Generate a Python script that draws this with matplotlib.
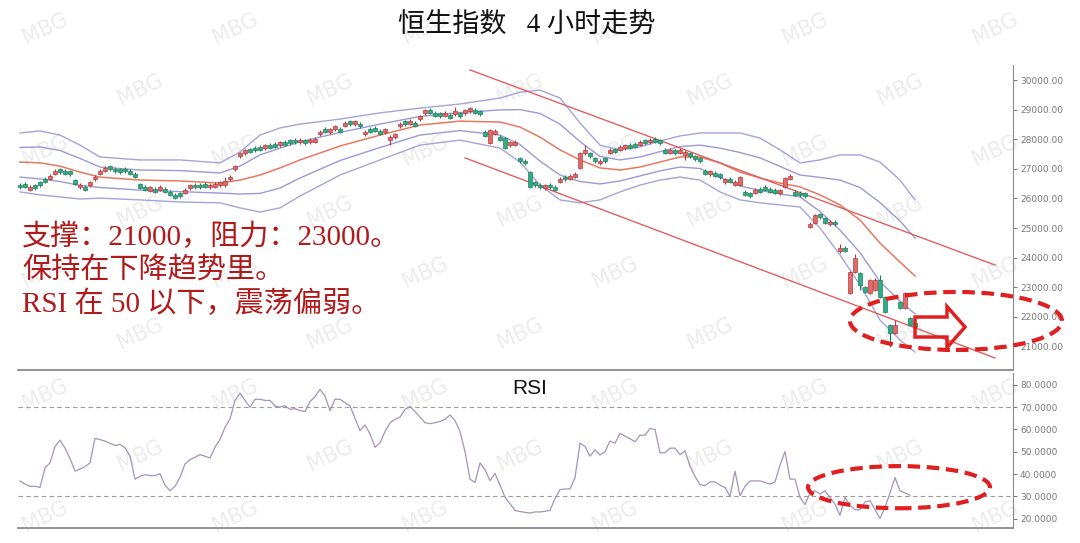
import numpy as np
import matplotlib.pyplot as plt
from matplotlib.patches import Ellipse, FancyArrow

# 恒生指数 4 小时 K 线
opens = [26470, 26500, 26300, 26440, 26540, 26670, 26670, 26840, 26980, 26940,
         26910, 26620, 26370, 26400, 26440, 26640, 26840, 26940, 27080, 27010,
         26980, 27010, 26940, 26840, 26490, 26400, 26250, 26330, 26300, 26330,
         26230, 26130, 26170, 26200, 26340, 26470, 26470, 26500, 26370, 26400,
         26440, 26450, 26640, 26980, 27420, 27520, 27680, 27720, 27750, 27690,
         27820, 27850, 27790, 27920, 27960, 27990, 27890, 27960, 27890, 27920,
         28160, 28360, 28230, 28330, 28360, 28460, 28600, 28500, 28530, 28160,
         28360, 28390, 28290, 28230, 27990, 28060, 28430, 28600, 28530, 28560,
         28670, 28870, 29000, 28900, 28870, 28800, 28830, 28840, 28870, 28870,
         28940, 29000, 28940, 28260, 27870, 28190, 28090, 28040, 27790, 27820,
         27350, 27280, 26890, 26540, 26470, 26340, 26470, 26400, 26570, 26740,
         26670, 26740, 27030, 27520, 27520, 27350, 27180, 27350, 27550, 27680,
         27650, 27690, 27820, 27850, 27820, 27960, 27890, 28020, 27960, 27650,
         27550, 27620, 27550, 27480, 27520, 27420, 27350, 26940, 26810, 26870,
         26810, 26540, 26670, 26470, 26450, 26230, 26170, 26200, 26330, 26400,
         26330, 26300, 26170, 26390, 26670, 26230, 26200, 26170, 25050, 25170,
         25460, 25340, 25120, 25220, 24210, 24340, 22800, 23510, 23480, 23010,
         22800, 22910, 23240, 22670, 21720, 21450, 22500, 22300, 21960, 21790]
closes = [26370, 26400, 26400, 26340, 26440, 26570, 26770, 26940, 26880, 26840,
          26810, 26480, 26470, 26300, 26540, 26740, 26940, 27040, 26980, 26910,
          26880, 26910, 26840, 26740, 26350, 26300, 26390, 26230, 26400, 26230,
          26130, 26030, 26070, 26300, 26440, 26370, 26370, 26400, 26470, 26500,
          26540, 26590, 26740, 27080, 27520, 27620, 27580, 27620, 27650, 27790,
          27720, 27750, 27890, 27820, 27860, 27890, 27990, 27860, 27990, 28020,
          28260, 28260, 28330, 28430, 28260, 28560, 28500, 28600, 28430, 28260,
          28260, 28290, 28190, 28330, 28090, 28160, 28530, 28500, 28630, 28460,
          28770, 28970, 28900, 28800, 28770, 28900, 28730, 28940, 28770, 28970,
          29040, 28900, 28840, 28100, 28310, 28290, 27990, 27700, 27890, 27920,
          27250, 27180, 26390, 26440, 26370, 26440, 26370, 26300, 26670, 26640,
          26770, 26840, 27530, 27620, 27420, 27250, 27280, 27250, 27650, 27580,
          27750, 27790, 27720, 27750, 27920, 27860, 27990, 27920, 27860, 27550,
          27650, 27520, 27650, 27580, 27420, 27320, 27250, 26840, 26910, 26770,
          26710, 26640, 26570, 26570, 26720, 26130, 26070, 26300, 26230, 26300,
          26230, 26200, 26270, 26690, 26770, 26130, 26100, 26070, 25150, 25440,
          25360, 25170, 25220, 25120, 24310, 24240, 23510, 23990, 23070, 22840,
          23240, 23240, 22670, 22160, 21450, 21720, 22300, 22800, 21720, 21660]
highs = [26510, 26540, 26440, 26480, 26580, 26710, 26810, 26980, 27020, 26980,
         26950, 26660, 26510, 26440, 26580, 26780, 26980, 27080, 27120, 27050,
         27020, 27050, 26980, 26880, 26530, 26440, 26430, 26370, 26440, 26370,
         26270, 26170, 26210, 26340, 26480, 26510, 26510, 26540, 26510, 26540,
         26580, 26720, 26780, 27120, 27560, 27660, 27720, 27760, 27790, 27830,
         27860, 27890, 27930, 27960, 28000, 28030, 28030, 28000, 28030, 28060,
         28300, 28400, 28370, 28470, 28400, 28600, 28640, 28640, 28570, 28300,
         28400, 28430, 28330, 28370, 28130, 28200, 28570, 28640, 28670, 28600,
         28810, 29010, 29040, 28940, 28910, 28940, 28870, 29100, 28910, 29010,
         29080, 29040, 28980, 28300, 28360, 28330, 28130, 28080, 27930, 27960,
         27390, 27320, 26930, 26580, 26510, 26480, 26510, 26440, 26710, 26780,
         26810, 26880, 27570, 27800, 27560, 27390, 27320, 27390, 27690, 27720,
         27790, 27830, 27860, 27890, 27960, 28000, 28030, 28060, 28000, 27690,
         27690, 27660, 27690, 27620, 27560, 27460, 27390, 26980, 26950, 26910,
         26850, 26680, 26710, 26610, 26760, 26270, 26210, 26340, 26370, 26440,
         26370, 26340, 26310, 26730, 26830, 26270, 26240, 26210, 25190, 25480,
         25500, 25380, 25260, 25260, 24450, 24380, 23550, 24120, 23520, 23050,
         23280, 23300, 23400, 22710, 21760, 21900, 22540, 22840, 22000, 21830]
lows = [26330, 26360, 26260, 26300, 26400, 26530, 26630, 26800, 26840, 26800,
        26770, 26440, 26330, 26260, 26400, 26600, 26800, 26900, 26940, 26870,
        26840, 26870, 26800, 26700, 26310, 26260, 26210, 26190, 26260, 26190,
        26090, 25990, 26030, 26160, 26300, 26330, 26330, 26360, 26330, 26360,
        26400, 26390, 26600, 26940, 27380, 27480, 27540, 27580, 27610, 27650,
        27680, 27710, 27750, 27780, 27820, 27850, 27850, 27820, 27850, 27880,
        28120, 28220, 28190, 28290, 28220, 28420, 28460, 28460, 28390, 28120,
        28220, 28250, 28150, 28190, 27800, 28020, 28390, 28460, 28490, 28420,
        28630, 28830, 28860, 28760, 28730, 28760, 28690, 28800, 28730, 28830,
        28900, 28860, 28800, 28060, 27830, 28150, 27950, 27660, 27750, 27780,
        27210, 27140, 26350, 26400, 26330, 26300, 26330, 26260, 26530, 26600,
        26630, 26700, 26990, 27480, 27380, 27210, 27140, 27210, 27510, 27540,
        27610, 27650, 27680, 27710, 27780, 27820, 27850, 27880, 27820, 27510,
        27510, 27480, 27510, 27300, 27380, 27280, 27210, 26800, 26770, 26730,
        26670, 26500, 26530, 26430, 26410, 26090, 26030, 26160, 26190, 26260,
        26190, 26160, 26130, 26350, 26630, 26090, 26060, 26030, 25010, 25130,
        25320, 25130, 25080, 25080, 24170, 24200, 22760, 23470, 22900, 22800,
        22760, 22870, 22630, 22120, 20980, 21410, 22260, 22260, 21680, 21620]

# 布林带 (双标准差/单标准差), 在这些 K 线序号处读取
band_idx = [0, 4, 8, 12, 16, 24, 32, 40, 44, 48, 52, 56, 64, 72, 80, 88, 96, 100, 104,
            108, 112, 116, 120, 124, 128, 132, 136, 140, 144, 148, 152, 156, 160, 164,
            168, 172, 176, 179]
band_up2 = [28210, 28280, 28140, 27800, 27400, 27300, 27300, 27200, 27570, 28140, 28380,
            28510, 28680, 28890, 29050, 29190, 29390, 29590, 29660, 29390, 28550, 27800,
            27640, 27740, 27940, 28110, 28210, 28210, 28210, 28040, 27640, 27200, 27300,
            27470, 27470, 27230, 26620, 25950]
band_up1 = [27720, 27740, 27620, 27350, 27060, 26960, 26940, 26860, 27090, 27470, 27700,
            27910, 28230, 28510, 28770, 28900, 28990, 29000, 28870, 28510, 27920, 27420,
            27300, 27400, 27580, 27750, 27800, 27700, 27550, 27370, 27080, 26790, 26710,
            26620, 26370, 25860, 25240, 24660]
band_mid = [27230, 27200, 27090, 26890, 26720, 26620, 26590, 26520, 26620, 26790, 27030,
            27300, 27770, 28140, 28480, 28610, 28580, 28410, 28070, 27640, 27300, 27030,
            26960, 27060, 27230, 27400, 27400, 27200, 26890, 26690, 26520, 26390, 26120,
            25780, 25270, 24490, 23850, 23380]
band_lo1 = [26720, 26660, 26570, 26440, 26370, 26280, 26230, 26180, 26150, 26170, 26350,
            26690, 27280, 27720, 28140, 28290, 28140, 27820, 27260, 26790, 26570, 26490,
            26590, 26760, 26930, 27060, 27010, 26710, 26420, 26270, 26150, 26050, 25560,
            24930, 24170, 23190, 22530, 22100]
band_lo2 = [26220, 26120, 26050, 25980, 26010, 25950, 25880, 25850, 25680, 25540, 25680,
            26080, 26790, 27300, 27800, 27970, 27700, 27230, 26450, 25950, 25850, 25950,
            26220, 26450, 26620, 26720, 26620, 26220, 25950, 25850, 25780, 25710, 25000,
            24090, 23080, 21890, 21220, 20810]

# 下降通道
chan_up_idx = [90, 195]
chan_up_val = [30340, 23750]
chan_lo_idx = [89, 195]
chan_lo_val = [27370, 20610]

rsi = [36.9, 35.5, 34.5, 34.5, 34, 42.8, 45, 52.3, 55.2, 51.6,
       47, 41.3, 42.2, 43.3, 45, 56, 55.4, 54.8, 53.8, 52.8,
       53.3, 51.8, 48, 37.7, 39, 39.7, 39.3, 39.3, 40.1, 35,
       32.5, 34.5, 38.5, 44.5, 46.5, 47.5, 48.7, 48, 47.2, 52,
       55.5, 61, 64.7, 73, 76.2, 73, 69.9, 73.5, 73.5, 73,
       73, 70.5, 70, 70.6, 69, 69.3, 68.5, 68, 72.5, 74.7,
       77.9, 75, 68.4, 73.5, 73.5, 72, 70.6, 65, 59.5, 62,
       58, 52, 54, 59, 63, 64.5, 65.5, 69, 70.3, 68,
       65.5, 63, 62.6, 63, 63.6, 64.5, 66.5, 64, 59, 50,
       37.7, 36.2, 45, 42, 37, 40.3, 35, 29.6, 26.7, 23.7,
       23.2, 22.8, 22.5, 23, 23, 23.3, 23.7, 29, 33, 33.3,
       33.3, 38.4, 53.8, 52.3, 48, 50.8, 48.5, 50, 54.8, 53.8,
       58.2, 57, 55.8, 54.5, 57.4, 57.4, 60.4, 60, 49.5, 49.5,
       51.6, 51.6, 48.7, 50.4, 43.5, 39, 35.2, 34.8, 36.5, 36.5,
       35, 34, 29.9, 41.3, 30.3, 34.5, 36.9, 36.9, 36.9, 36.2,
       35.5, 36.5, 44, 50.1, 37.7, 37.7, 29.5, 26.3, 31.5, 32.5,
       31, 32.5, 29.5, 26.5, 21.5, 29.6, 26, 24, 24, 27.5,
       28, 24, 20.1, 25, 31.5, 38.4, 32.5, 31.5, 30.5]

price_ticks = [21000, 22000, 23000, 24000, 25000, 26000, 27000, 28000, 29000, 30000]
rsi_ticks = [20, 30, 40, 50, 60, 70, 80]

cn_font = ['Liberation Serif', 'Noto Sans CJK SC', 'DejaVu Sans']
RED = '#e02020'

o = np.array(opens)
c = np.array(closes)
idx = np.arange(len(o))
up = c >= o

fig = plt.figure(figsize=(10.8, 5.43), dpi=100)

# 水印 (画在最底层)
for r in range(9):
    for q in range(6):
        px = q * 190 + (r % 2) * 95 + 45
        if px > 1035:
            continue
        fig.text(px / 1080, 1 - (r * 61 + 28) / 543, 'MBG', fontsize=15,
                 color='#d9d9d9', alpha=0.5, rotation=25, ha='center',
                 va='center', zorder=-5)

ax = fig.add_axes([18 / 1080, 1 - 370 / 543, 995 / 1080, 305 / 543])
ax2 = fig.add_axes([18 / 1080, 15 / 543, 995 / 1080, 155 / 543])

# 布林带
ax.plot(band_idx, band_up2, color='#a4a4dc', lw=1.0)
ax.plot(band_idx, band_up1, color='#9a9ad6', lw=1.0)
ax.plot(band_idx, band_mid, color='#e8785e', lw=1.1)
ax.plot(band_idx, band_lo1, color='#9a9ad6', lw=1.0)
ax.plot(band_idx, band_lo2, color='#a4a4dc', lw=1.0)

# 通道线
ax.plot(chan_up_idx, chan_up_val, color='#e06060', lw=1.0)
ax.plot(chan_lo_idx, chan_lo_val, color='#e06060', lw=1.0)

# K 线
face = np.where(up, '#e46a6a', '#2fae85')
edge = np.where(up, '#b23a3a', '#1f7f5f')
ax.vlines(idx, lows, highs, colors=edge, lw=0.8, zorder=3)
ax.bar(idx, np.abs(c - o), bottom=np.minimum(o, c), width=0.7,
       color=face, edgecolor=edge, linewidth=0.5, zorder=4)

ax.set_xlim(-0.4, 198.6)
ax.set_ylim(20204, 30507)
ax.set_yticks(price_ticks)
ax.set_yticklabels([f'{v:.2f}' for v in price_ticks])

# RSI
ax2.plot(np.arange(len(rsi)), rsi, color='#a593b8', lw=0.9)
ax2.axhline(70, color='#9a9a9a', lw=0.8, ls=(0, (4, 3)))
ax2.axhline(30, color='#9a9a9a', lw=0.8, ls=(0, (4, 3)))
ax2.set_xlim(-0.4, 198.6)
ax2.set_ylim(15.8, 85.3)
ax2.set_yticks(rsi_ticks)
ax2.set_yticklabels([f'{v:.4f}' for v in rsi_ticks])

for a in (ax, ax2):
    a.set_facecolor('none')
    a.yaxis.tick_right()
    a.set_xticks([])
    a.tick_params(axis='y', labelsize=6.5, colors='#777777', length=3, width=0.7, pad=2)
    for s in ('top', 'left'):
        a.spines[s].set_visible(False)
    a.spines['right'].set_color('#8a8a8a')
    a.spines['bottom'].set_color('#8a8a8a')
    a.spines['bottom'].set_linewidth(1.3)

# 标注
ax.add_patch(Ellipse((187.2, 21860), 42.4, 1960, fill=False, ec=RED, lw=3,
                     ls=(0, (3, 1.6)), clip_on=False, zorder=6))
ax.add_patch(FancyArrow(179, 21656, 10, 0, width=676, head_width=1385, head_length=3.6,
                        length_includes_head=True, fill=False, ec=RED, lw=2.5,
                        clip_on=False, zorder=6))
ax2.add_patch(Ellipse((175.8, 34.1), 36.4, 18.9, fill=False, ec=RED, lw=3,
                      ls=(0, (3, 1.6)), clip_on=False, zorder=6))

fig.text(527 / 1080, 1 - 25 / 543, '恒生指数   4 小时走势', ha='center', va='center',
         fontsize=19.5, color='#111111', family=cn_font)
fig.text(530 / 1080, 1 - 388 / 543, 'RSI', ha='center', va='center',
         fontsize=15, color='#111111', family='Liberation Sans')

notes = ['支撑：21000，阻力：23000。', '保持在下降趋势里。', 'RSI 在 50 以下，震荡偏弱。']
for k, line in enumerate(notes):
    fig.text(22 / 1080, 1 - (237 + 33.5 * k) / 543, line, ha='left', va='center',
             fontsize=21, color='#b01a1a', family=cn_font)

fig.savefig('out.png', dpi=100)
